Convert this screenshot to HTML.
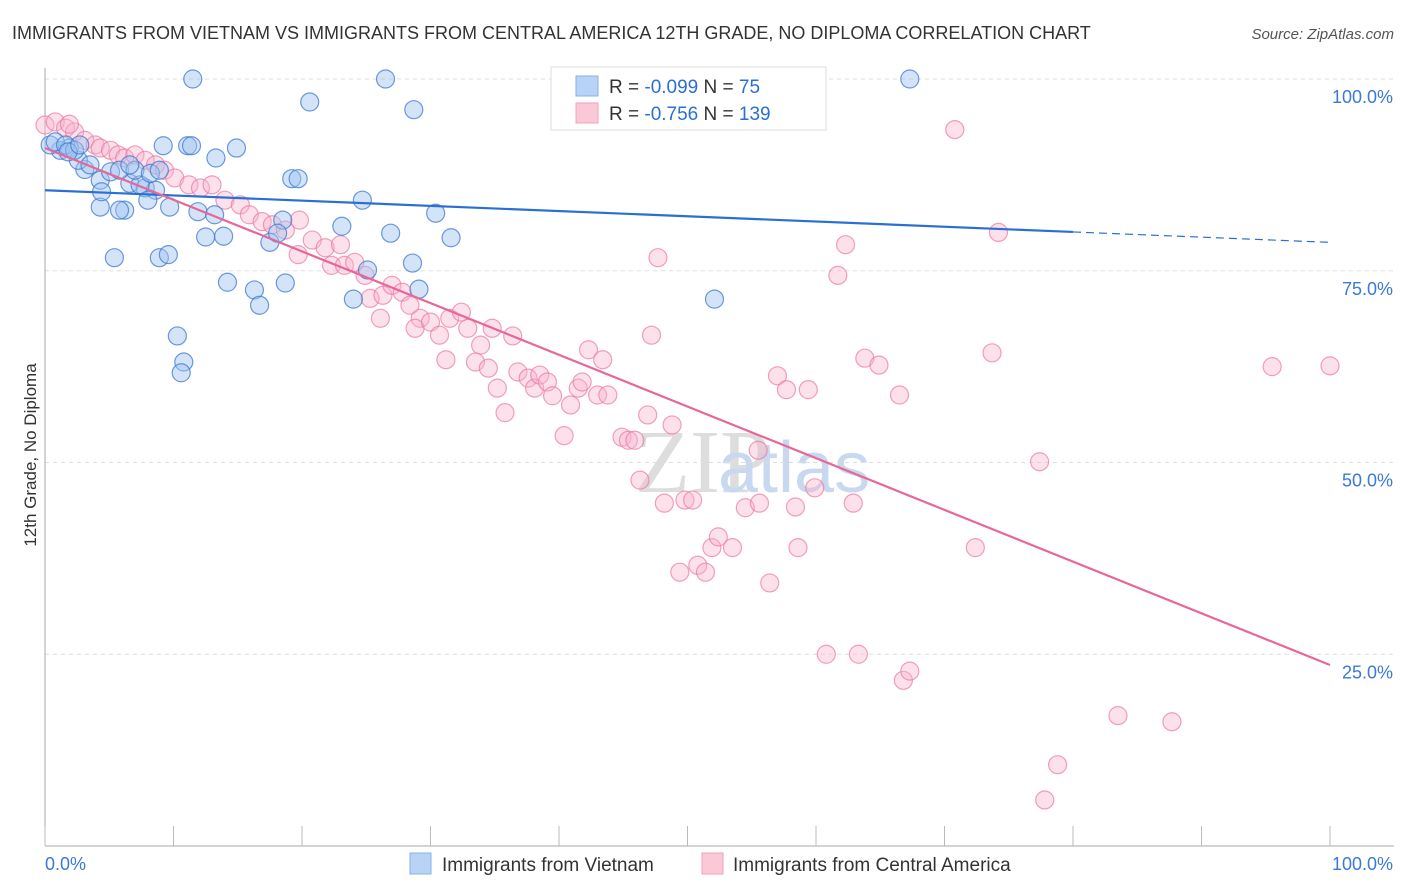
<!DOCTYPE html>
<html><head><meta charset="utf-8">
<style>
body{margin:0;background:#fff;font-family:"Liberation Sans",sans-serif;}
#wrap{position:relative;width:1406px;height:892px;overflow:hidden;}
</style></head>
<body>
<div id="wrap">
<svg id="svg" width="1406" height="892" xmlns="http://www.w3.org/2000/svg">
<text x="12" y="39" font-size="18" fill="#333">IMMIGRANTS FROM VIETNAM VS IMMIGRANTS FROM CENTRAL AMERICA 12TH GRADE, NO DIPLOMA CORRELATION CHART</text>
<text x="1394" y="39" font-size="15" fill="#555" text-anchor="end" font-style="italic">Source: ZipAtlas.com</text>
<text x="635" y="492" font-size="90" fill="#ddd" font-family="Liberation Serif">ZIP</text>
<text x="718" y="492" font-size="72" fill="#c8d8ee">atlas</text>
<text x="36" y="455" font-size="17" fill="#333" text-anchor="middle" transform="rotate(-90 36 455)">12th Grade, No Diploma</text>
<g id="grid"></g><g id="axes"></g><g id="marks"></g><g id="trend"></g>
<g>
<rect x="551" y="67" width="275" height="63" fill="#fff" stroke="#ddd"/>
<rect x="576" y="76" width="22" height="20" fill="#b8d3f5" stroke="#8ab0e6"/>
<rect x="576" y="103" width="22" height="20" fill="#fbc8d8" stroke="#f0a0bc"/>
<text x="609" y="93" font-size="19" fill="#333">R = <tspan fill="#2a6fd6">-0.099</tspan>   N = <tspan fill="#2a6fd6"> 75</tspan></text>
<text x="609" y="120" font-size="19" fill="#333">R = <tspan fill="#2a6fd6">-0.756</tspan>   N = <tspan fill="#2a6fd6">139</tspan></text>
</g>
<g>
<rect x="410" y="853" width="21" height="21" fill="#b8d3f5" stroke="#8ab0e6"/>
<text x="442" y="871" font-size="19" fill="#333">Immigrants from Vietnam</text>
<rect x="702" y="853" width="21" height="21" fill="#fbc8d8" stroke="#f0a0bc"/>
<text x="733" y="871" font-size="19" fill="#333">Immigrants from Central America</text>
</g>
</svg>
</div>
<script>
const yTicks=[100,75,50,25];
const yTickLabels=["100.0%","75.0%","50.0%","25.0%"];
const xTicks=[0,10,20,30,40,50,60,70,80,90,100];
const blueX=[11.5,26.5,67.3,20.6,28.7,9.2,11.1,11.4,14.9,13.3,19.2,19.7,4.3,6.6,7.8,8.6,7.4,5.1,3.1,1.2,0.4,1.9,2.6,3.5,5.8,7,8.2,8.9,4.3,6.2,5.8,8,9.7,11.9,13.2,18.5,24.7,30.4,23.1,12.5,13.9,17.5,18.1,26.9,31.6,5.4,8.9,9.6,14.2,16.3,18.7,16.7,24,25.1,28.6,29.1,52.1,10.3,10.8,10.6,0.8,1.6,2.3,1.8,4.4,2.7,6.6];
const blueY=[100,100,100,97,96,91.3,91.3,91.3,91,89.7,87,87,86.8,86.4,85.8,85.5,86.2,87.9,88.2,90.7,91.4,91,89.4,88.8,88.1,88.1,87.7,88.1,83.3,82.9,82.9,84.2,83.3,82.7,82.3,81.6,84.2,82.5,80.8,79.4,79.5,78.7,79.9,79.9,79.3,76.7,76.7,77.1,73.5,72.5,73.4,70.5,71.3,75.1,76,72.6,71.3,66.5,63.1,61.7,91.8,91.4,90.7,90.5,85.3,91.4,88.8];
const pinkX=[0,0.8,1.6,2.3,1.9,3.1,3.9,4.3,5.1,5.7,6.2,7,7.8,8.6,9.3,10.1,11.2,12.1,13,14,15.2,15.9,16.9,17.7,18.7,19.8,19.7,20.8,21.8,23,22.3,23.3,24.1,24.9,25.3,26.1,26.3,27,27.8,28.4,29.2,28.8,30,30.7,31.5,32.4,32.9,33.9,34.8,31.2,33.5,34.5,35.2,35.8,36.4,36.8,37.6,38.1,38.5,39.1,39.5,40.4,40.9,41.5,41.8,42.3,43,43.4,43.8,44.9,45.4,45.9,46.3,46.9,47.2,47.7,48.2,48.8,49.8,50.4,49.4,50.8,51.4,51.9,52.4,53.5,54.5,55.6,55.5,56.4,57,57.7,58.6,58.4,59.4,59.9,60.8,61.7,62.3,62.9,63.3,63.8,64.9,66.5,66.8,67.3,70.8,72.4,73.7,74.2,77.4,77.8,78.8,83.5,87.7,95.5,100,54.2];
const pinkY=[94,94.4,93.6,93.1,94.1,92,91.4,91,90.7,90.1,89.7,90.1,89.4,88.8,88.1,87.1,86.2,85.8,86.2,84.2,83.6,82.3,81.4,81,80.3,81.6,77.1,79,78,78.4,75.7,75.7,76.1,74.4,71.4,68.8,71.8,73.1,72.2,70.5,68.8,67.5,68.3,66.6,68.8,69.6,67.5,65.3,67.5,63.4,63.1,62.3,59.7,56.5,66.5,61.8,61,59.7,61.4,60.5,58.7,53.5,57.5,59.7,60.5,64.7,58.8,63.4,58.8,53.3,52.9,52.9,47.7,56.2,66.6,76.7,44.7,54.9,45.1,45.1,35.7,36.6,35.7,38.9,40.3,38.9,44.1,44.7,51.6,34.3,61.3,59.5,38.9,44.2,59.5,46.7,25,74.4,78.4,44.7,25,63.6,62.7,58.8,21.6,22.8,93.4,38.9,64.3,80,50.1,6,10.6,17,16.2,62.5,62.6,99.9];
const blueTrend=[85.5,78.7];
const pinkTrend=[91.0,23.6];
const NS="http://www.w3.org/2000/svg";
const X=v=>45+v*12.85, Y=v=>846-v*7.67;
function mk(tag,attrs,parent){const e=document.createElementNS(NS,tag);for(const k in attrs)e.setAttribute(k,attrs[k]);document.getElementById(parent).appendChild(e);return e;}
yTicks.forEach((t,i)=>{
 const g=mk('line',{x1:45,x2:1394,y1:Y(t),y2:Y(t),stroke:'#ddd','stroke-dasharray':'4,4'},'grid');
 
 
 const l=mk('text',{x:1393,y:Y(t)+24,'font-size':18,fill:'#3b78d8','text-anchor':'end'},'axes');
 l.textContent=yTickLabels[i];
 
 
});
const ax=mk('line',{x1:45,x2:1394,y1:846,y2:846,stroke:'#aaa'},'axes');


const ay=mk('line',{x1:45,x2:45,y1:68,y2:846,stroke:'#aaa'},'axes');


xTicks.forEach(t=>{
 const e=mk('line',{x1:X(t),x2:X(t),y1:826,y2:846,stroke:'#bbb'},'axes');
 
 
});
[[0,'0.0%','start',45],[100,'100.0%','end',1393]].forEach(a=>{
 const e=mk('text',{x:a[3],y:870,'font-size':18,fill:'#3b78d8','text-anchor':a[2]},'axes');
 e.textContent=a[1];
 
 
});
pinkX.forEach((v,i)=>{
 const c=mk('circle',{cx:X(v),cy:Y(pinkY[i]),r:9,fill:'rgba(248,180,204,0.4)',stroke:'rgba(236,120,160,0.7)','stroke-width':1.2},'marks');
 
 
});
blueX.forEach((v,i)=>{
 const c=mk('circle',{cx:X(v),cy:Y(blueY[i]),r:9,fill:'rgba(160,196,240,0.45)',stroke:'rgba(60,120,210,0.75)','stroke-width':1.2},'marks');
 
 
});
const by80=blueTrend[0]+(blueTrend[1]-blueTrend[0])*0.8;
const b1=mk('line',{x1:X(0),y1:Y(blueTrend[0]),x2:X(80),y2:Y(by80),stroke:'#2a6fd6','stroke-width':2.2},'trend');


const b2=mk('line',{x1:X(80),y1:Y(by80),x2:X(100),y2:Y(blueTrend[1]),stroke:'#2a6fd6','stroke-width':1.2,'stroke-dasharray':'8,5'},'trend');


const p1=mk('line',{x1:X(0),y1:Y(pinkTrend[0]),x2:X(100),y2:Y(pinkTrend[1]),stroke:'#e8669a','stroke-width':2.2},'trend');


</script>
</body></html>
